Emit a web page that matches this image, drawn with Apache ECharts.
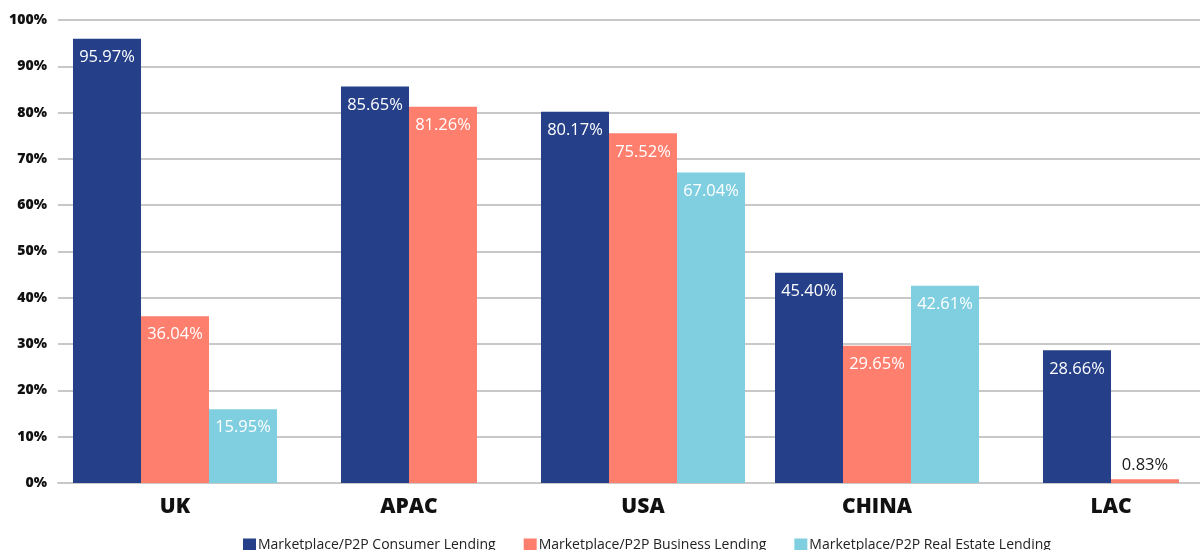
<!DOCTYPE html>
<html><head><meta charset="utf-8">
<script src="https://cdn.jsdelivr.net/npm/echarts@6/dist/echarts.min.js"></script>
<style>html,body{margin:0;padding:0;background:#fff;overflow:hidden}#c{width:1228px;height:550px}</style>
</head><body><div id="c"></div>
<script>
var categories = ['UK', 'APAC', 'USA', 'CHINA', 'LAC'];
var consumer = [95.97, 85.65, 80.17, 45.40, 28.66];
var business = [36.04, 81.26, 75.52, 29.65, 0.83];
var realEstate = [15.95, null, 67.04, 42.61, null];
var seriesNames = ['Marketplace/P2P Consumer Lending', 'Marketplace/P2P Business Lending', 'Marketplace/P2P Real Estate Lending'];
var yTicks = [0, 10, 20, 30, 40, 50, 60, 70, 80, 90, 100];
var colors = ['#253F88', '#FF7F6E', '#7FCFE0'];

var FONT = "'Open Sans', 'Noto Sans', sans-serif";
function hasThree(i) { return realEstate[i] != null; }
function pick(arr, three) {
  return arr.map(function (v, i) {
    if (v == null || hasThree(i) !== three) return '-';
    if (v < 5) return { value: v, label: { position: 'top', color: '#1a1a1a', distance: 5 } };
    return v;
  });
}
function mk(name, arr, axis, color) {
  return {
    name: name, type: 'bar', xAxisIndex: axis, data: pick(arr, axis === 0),
    barWidth: 68, barGap: '0%',
    itemStyle: { color: color },
    label: {
      show: true, position: 'insideTop', distance: 10, color: '#fff',
      fontFamily: FONT, fontSize: 16.5, fontWeight: 500,
      formatter: function (p) { return p.value.toFixed(2) + '%'; }
    }
  };
}
var chart = echarts.init(document.getElementById('c'));
chart.setOption({
  animation: false,
  grid: { left: 58, right: 0, top: 20, bottom: 67, containLabel: false },
  legend: {
    left: 238, top: 533, itemWidth: 13, itemHeight: 13, itemGap: 28, icon: 'rect',
    textStyle: { fontFamily: FONT, fontSize: 14, color: '#222', padding: [0, 0, 0, -3] },
    data: seriesNames
  },
  xAxis: [{
    type: 'category', data: categories,
    axisLine: { show: true, lineStyle: { color: '#c8c8c8', width: 2 } },
    axisTick: { show: false },
    axisLabel: { fontFamily: FONT, fontSize: 21, fontWeight: 800, color: '#111', margin: 14 }
  }, {
    type: 'category', data: categories, show: false
  }],
  yAxis: {
    type: 'value', min: yTicks[0], max: yTicks[yTicks.length - 1], interval: 10,
    axisLine: { show: false }, axisTick: { show: false },
    splitLine: { lineStyle: { color: '#c8c8c8', width: 2 } },
    axisLabel: { fontFamily: FONT, fontSize: 14, fontWeight: 800, color: '#111', margin: 11,
      formatter: function (v) { return v + '%'; } }
  },
  series: [
    mk(seriesNames[0], consumer, 0, colors[0]),
    mk(seriesNames[1], business, 0, colors[1]),
    mk(seriesNames[2], realEstate, 0, colors[2]),
    mk(seriesNames[0], consumer, 1, colors[0]),
    mk(seriesNames[1], business, 1, colors[1])
  ]
});
</script></body></html>
